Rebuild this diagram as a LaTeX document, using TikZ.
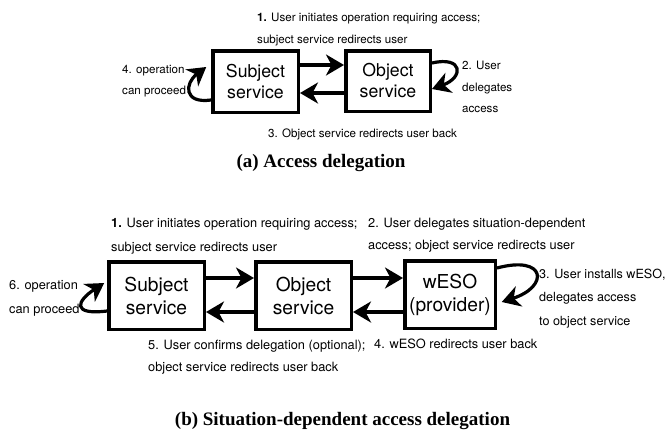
\documentclass[tikz,border=0pt]{standalone}
\usepackage{fontspec}
\newfontfamily\heros{TeX Gyre Heros}
\newfontfamily\capfont{Liberation Serif}
\usetikzlibrary{arrows.meta}
\begin{document}
\begin{tikzpicture}[x=1pt,y=1pt,
  svc/.style={draw, line width=3.5pt, inner sep=0pt, align=center},
  svcA/.style={svc, font=\heros\fontsize{17.7}{21}\selectfont},
  svcB/.style={svc, font=\heros\fontsize{19.2}{23}\selectfont},
  flow/.style={line width=3.2pt, -{Stealth[length=18pt,width=21pt,inset=5.5pt]}},
  lblA/.style={anchor=north west, inner sep=0pt, align=left,
    font=\heros\fontsize{11.6}{21.5}\selectfont},
  lblB/.style={anchor=north west, inner sep=0pt, align=left,
    font=\heros\fontsize{12.8}{23.5}\selectfont},
  capline/.style={inner sep=0pt, font=\capfont\bfseries\fontsize{19}{22}\selectfont}
]
\useasboundingbox (0,0) rectangle (667,-432);

% ---------- (a) access delegation ----------
\node[svcA, minimum width=85.5, minimum height=61.5] (sub) at (255.5,-81.5) {Subject\\service};
\node[svcA, minimum width=84.5, minimum height=60.5] (obj) at (388,-81) {Object\\service};

\draw[flow] ([yshift=16.5pt]sub.east) -- ([yshift=16pt]obj.west);
\draw[flow] ([yshift=-12pt]obj.west) -- ([yshift=-11.5pt]sub.east);
\draw[flow] ([yshift=-18.5pt]sub.west)
  to[out=188, in=217, out distance=28pt, in distance=27pt]
  ([xshift=-4.75pt, yshift=14.5pt]sub.west);
\draw[flow] ([yshift=18pt]obj.east)
  to[out=13, in=20, out distance=32pt, in distance=34pt]
  ([yshift=-8pt]obj.east);

\node[lblA] (l1a) at (257,-13) {{\bfseries 1.} User initiates operation requiring access;\\subject service redirects user};
\node[lblA] (l4a) at (122,-65) {4. operation\\can proceed};
\node[lblA] (l2a) at (462,-61) {2. User\\delegates\\access};
\node[lblA] (l3a) at (268,-129) {3. Object service redirects user back};
\node[capline] (capa) at (321,-163) {(a) Access delegation};

% ---------- (b) situation-dependent access delegation ----------
\node[svcB, minimum width=95.5, minimum height=67.5] (sub2) at (156.5,-295.5) {Subject\\service};
\node[svcB, minimum width=95.5, minimum height=67.5] (obj2) at (303.5,-295.5) {Object\\service};
\node[svcB, minimum width=90.5, minimum height=67.5] (weso) at (450,-294.5) {wESO\\(provider)};

\draw[flow] ([yshift=17.5pt]sub2.east) -- ([yshift=17.5pt]obj2.west);
\draw[flow] ([yshift=17.5pt]obj2.east) -- ([yshift=16.5pt]weso.west);
\draw[flow] ([yshift=-17.5pt]weso.west) -- ([yshift=-16.5pt]obj2.east);
\draw[flow] ([yshift=-16.5pt]obj2.west) -- ([yshift=-16.5pt]sub2.east);
\draw[flow] ([yshift=-15.5pt]sub2.west)
  to[out=187, in=213, out distance=36pt, in distance=33pt]
  ([xshift=-2.75pt, yshift=12.5pt]sub2.west);
\draw[flow] ([yshift=26.5pt]weso.east)
  to[out=15, in=18, out distance=51pt, in distance=50pt]
  ([xshift=4.75pt, yshift=-7.5pt]weso.east);

\node[lblB] (l1b) at (111,-218.4) {{\bfseries 1.} User initiates operation requiring access;\\subject service redirects user};
\node[lblB, font=\heros\fontsize{12.8}{22}\selectfont] (l2b) at (368,-218.4) {2. User delegates situation-dependent\\access; object service redirects user};
\node[lblB, font=\heros\fontsize{12.6}{23.5}\selectfont] (l3b) at (539,-268.4) {3. User installs wESO,\\delegates access\\to object service};
\node[lblB] (l6b) at (9,-280.4) {6. operation\\can proceed};
\node[lblB] (l4b) at (374,-338.4) {4. wESO redirects user back};
\node[lblB, font=\heros\fontsize{12.8}{22}\selectfont] (l5b) at (148,-340.4) {5. User confirms delegation (optional);\\object service redirects user back};
\node[capline] (capb) at (342.5,-421) {(b) Situation-dependent access delegation};
\end{tikzpicture}
\end{document}
